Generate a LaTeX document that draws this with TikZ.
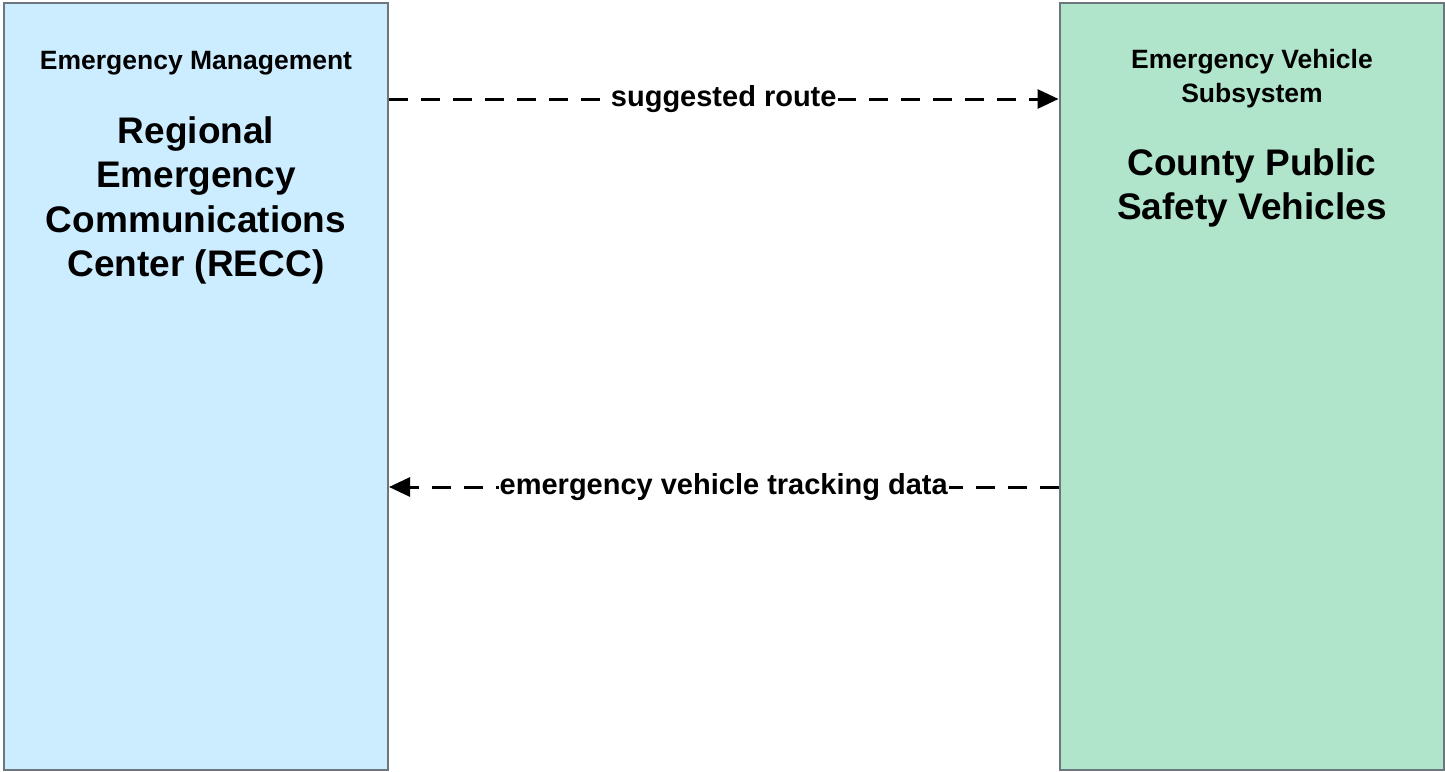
\documentclass[tikz,border=0pt]{standalone}
\usepackage{fontspec}
\setmainfont{Liberation Sans}
\usetikzlibrary{arrows.meta}
\definecolor{leftfill}{RGB}{204,236,255}
\definecolor{rightfill}{RGB}{176,229,204}
\definecolor{boxline}{RGB}{110,118,125}
\tikzset{
  sysbox/.style={draw=boxline, line width=2pt, rectangle, inner sep=0pt, minimum width=384pt, minimum height=767pt},
  small/.style={font=\bfseries\fontsize{26.5}{34}\selectfont, inner sep=0pt, align=center},
  big/.style={font=\bfseries\fontsize{37}{44.5}\selectfont, inner sep=0pt, align=center},
  flow/.style={line width=3pt, dash pattern=on 19pt off 13pt, -{Triangle[length=21pt,width=19pt]}},
  lbl/.style={font=\bfseries\fontsize{29}{34}\selectfont, fill=white, inner sep=1pt}
}
\begin{document}
\begin{tikzpicture}[x=1pt,y=-1pt]
\useasboundingbox (0,0) rectangle (1445,771);
\node[sysbox, fill=leftfill] (left) at (196,386.5) {};
\node[sysbox, fill=rightfill] (right) at (1251.5,386.5) {};
\node[small, anchor=base] (lefttitle) at (196,69) {Emergency Management};
\node[big, anchor=north] (leftname) at (196,116) {Regional\\Emergency\\Communications\\Center (RECC)};
\node[small, anchor=north] (righttitle) at (1252,49) {Emergency Vehicle\\Subsystem};
\node[big, anchor=north] (rightname) at (1252,148) {County Public\\Safety Vehicles};
\draw[flow] (left.east |- 0,99) -- node[lbl] (l1) {suggested route} (right.west |- 0,99);
\draw[flow] (right.west |- 0,487) -- node[lbl] (l2) {emergency vehicle tracking data} (left.east |- 0,487);
\end{tikzpicture}
\end{document}
